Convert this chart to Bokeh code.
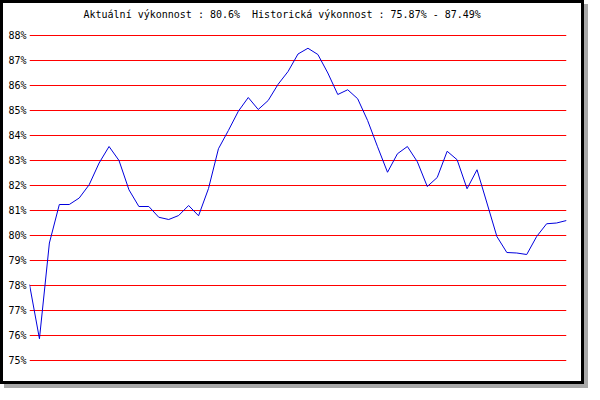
from bokeh.plotting import figure
from bokeh.models import FixedTicker, Range1d, Title
from bokeh.embed import file_html
from bokeh.resources import INLINE

# vykonnost v procentech, jeden bod na mereni
performance = [78.04, 75.87, 79.7, 81.24, 81.24, 81.5, 82.03, 82.9, 83.56, 83.0,
               81.83, 81.16, 81.16, 80.73, 80.64, 80.8, 81.2, 80.79, 81.88, 83.47,
               84.2, 84.97, 85.52, 85.04, 85.4, 86.05, 86.56, 87.26, 87.49, 87.24,
               86.5, 85.64, 85.83, 85.47, 84.6, 83.55, 82.53, 83.27, 83.56, 82.95,
               81.96, 82.32, 83.37, 83.03, 81.87, 82.63, 81.3, 79.96, 79.32, 79.3,
               79.24, 79.96, 80.47, 80.5, 80.6]
steps = list(range(len(performance)))
y_ticks = list(range(75, 89))
y_labels = [str(v) + "%" for v in y_ticks]

current = performance[-1]
hist_min = min(performance)
hist_max = max(performance)
title_text = "Aktuální výkonnost : %.1f%%\u00a0 Historická výkonnost : %.2f%% - %.2f%%" % (
    current, hist_min, hist_max)

pad = 0.08  # kousek navic, aby krajni cary nebyly oriznute
p = figure(width=584, height=384, output_backend="svg", toolbar_location=None,
           x_range=Range1d(0, len(performance) - 1),
           y_range=Range1d(y_ticks[0] - pad, y_ticks[-1] + pad),
           min_border_left=26, min_border_right=21, min_border_top=30, min_border_bottom=25)
p.styles = {"border": "3px solid black", "box-shadow": "4px 4px 0 #a8a8a8"}
p.background_fill_color = "white"
p.border_fill_color = "white"
p.outline_line_color = None

# prazdny pruh mezi grafem a nadpisem, aby nadpis sedel vys
spacer = Title(text="\u00a0", text_font_size="1px", standoff=10)
p.add_layout(spacer, "above")

t = Title(text=title_text, align="left", offset=54, standoff=2,
          text_font="DejaVu Sans Mono", text_font_size="10px",
          text_font_style="normal", text_color="black")
p.add_layout(t, "above")

p.xaxis.visible = False
p.xgrid.visible = False

p.yaxis.ticker = FixedTicker(ticks=y_ticks)
p.yaxis.major_label_overrides = dict(zip(y_ticks, y_labels))
p.yaxis.axis_line_color = None
p.yaxis.major_tick_line_color = None
p.yaxis.minor_tick_line_color = None
p.yaxis.major_tick_out = 0
p.yaxis.major_tick_in = 0
p.yaxis.major_label_standoff = 3
p.yaxis.major_label_text_baseline = "bottom"
p.yaxis.major_label_text_font = "DejaVu Sans Mono"
p.yaxis.major_label_text_font_size = "10px"
p.yaxis.major_label_text_color = "black"

p.ygrid.ticker = FixedTicker(ticks=y_ticks)
p.ygrid.grid_line_color = "#ff0000"
p.ygrid.grid_line_width = 1
p.ygrid.grid_line_alpha = 1

p.line(steps, performance, line_color="#0000dd", line_width=1)

open("out.html", "w").write(file_html(p, INLINE))
